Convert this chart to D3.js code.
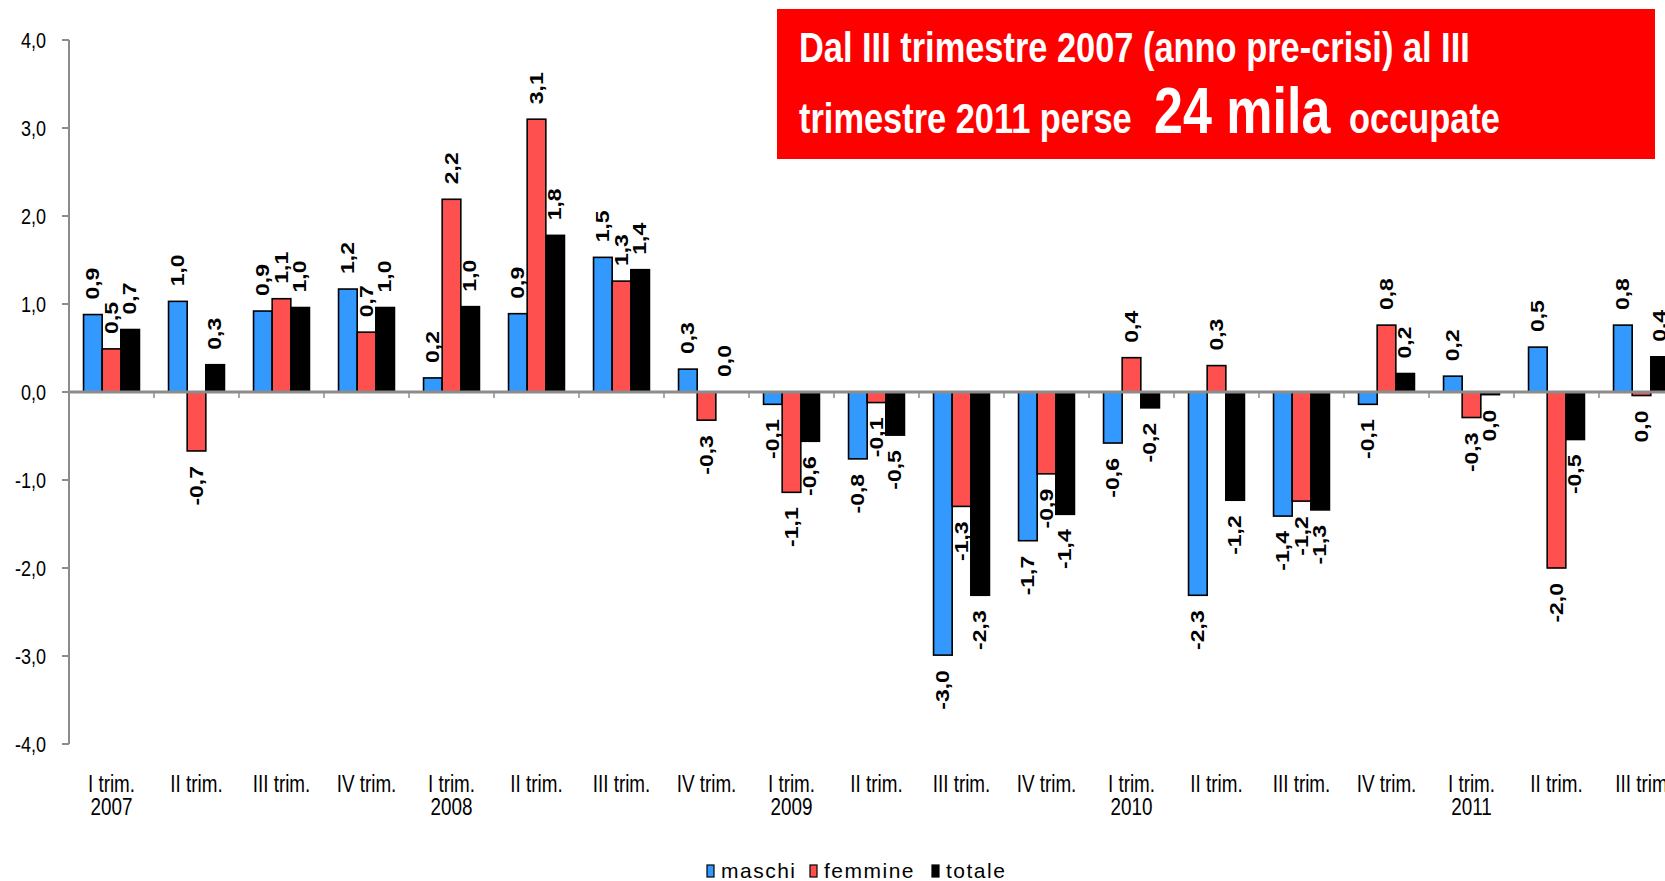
<!DOCTYPE html>
<meta charset="utf-8">
<title>Occupati per sesso</title>
<style>
  body { margin: 0; background: #fff; }
  text { font-family: "Liberation Sans", Arial, sans-serif; }
</style>
<div id="viz"></div>
<script src="https://cdnjs.cloudflare.com/ajax/libs/d3/7.8.5/d3.min.js"></script>
<script>

// quarters shown on the x axis (III trim. 2011 is cut by the right edge)
var categories = ["I trim.", "II trim.", "III trim.", "IV trim.",
                  "I trim.", "II trim.", "III trim.", "IV trim.",
                  "I trim.", "II trim.", "III trim.", "IV trim.",
                  "I trim.", "II trim.", "III trim.", "IV trim.",
                  "I trim.", "II trim.", "III trim"];
var years = ["2007", "", "", "", "2008", "", "", "", "2009", "", "", "",
             "2010", "", "", "", "2011", "", ""];

var maschi  = [0.88, 1.03, 0.92, 1.17, 0.16, 0.89, 1.53, 0.26, -0.14, -0.76,
               -2.99, -1.69, -0.58, -2.31, -1.41, -0.14, 0.18, 0.51, 0.76];
var femmine = [0.49, -0.67, 1.06, 0.68, 2.19, 3.10, 1.26, -0.32, -1.14, -0.12,
               -1.30, -0.93, 0.39, 0.30, -1.24, 0.76, -0.29, -2.00, -0.04];
var totale  = [0.71, 0.31, 0.96, 0.96, 0.97, 1.78, 1.39, 0.00, -0.56, -0.49,
               -2.31, -1.39, -0.18, -1.23, -1.34, 0.21, -0.03, -0.54, 0.40];

var seriesNames = ["maschi", "femmine", "totale"];
var seriesColors = ["#3399ff", "#ff5050", "#000000"];
var yTicks = [4, 3, 2, 1, 0, -1, -2, -3, -4];

var width = 1665;
var height = 881;

var svg = d3.select("#viz")
  .append("svg")
  .attr("width", width)
  .attr("height", height);

var idx = d3.range(categories.length);

var x = d3.scaleBand()
  .domain(idx)
  .range([69, 69 + 85 * categories.length]);

var x1 = d3.scaleBand()
  .domain(seriesNames)
  .range([0, x.bandwidth()])
  .paddingOuter(0.78);

var y = d3.scaleLinear()
  .domain([-4, 4])
  .range([744, 40]);

function fmt(v) {
  return (Math.round(v * 10) / 10).toFixed(1).replace(".", ",");
}

var rows = [];
idx.forEach(function(i) {
  rows.push({i: i, s: 0, v: maschi[i]});
  rows.push({i: i, s: 1, v: femmine[i]});
  rows.push({i: i, s: 2, v: totale[i]});
});

// title box
svg.append("rect")
  .attr("x", 777).attr("y", 9)
  .attr("width", 878).attr("height", 150)
  .attr("fill", "#ff0000");

function titleText(str, tx, ty, size) {
  svg.append("text")
    .attr("transform", "translate(" + tx + "," + ty + ") scale(0.8,1)")
    .attr("font-size", size)
    .attr("font-weight", "bold")
    .attr("fill", "#fff")
    .text(str);
}
titleText("Dal III trimestre 2007 (anno pre-crisi) al III", 799, 62, 43);
titleText("trimestre 2011 perse", 799, 133, 43);
titleText("24 mila", 1154, 133, 65);
titleText("occupate", 1349, 133, 43);

// bars
svg.append("g")
  .selectAll("rect")
  .data(rows)
  .join("rect")
  .attr("x", function(d) { return x(d.i) + x1(seriesNames[d.s]); })
  .attr("y", function(d) { return y(Math.max(0, d.v)); })
  .attr("width", x1.bandwidth())
  .attr("height", function(d) { return Math.abs(y(d.v) - y(0)); })
  .attr("fill", function(d) { return seriesColors[d.s]; })
  .attr("stroke", "#000")
  .attr("stroke-width", 1.6);

// y axis
var yAxis = svg.append("g");
yAxis.append("line")
  .attr("x1", 69).attr("x2", 69)
  .attr("y1", y(4)).attr("y2", y(-4))
  .attr("stroke", "#8c8c8c").attr("stroke-width", 2);
yAxis.selectAll(".tk")
  .data(yTicks)
  .join("line")
  .attr("x1", 62).attr("x2", 69)
  .attr("y1", function(d) { return y(d); })
  .attr("y2", function(d) { return y(d); })
  .attr("stroke", "#8c8c8c").attr("stroke-width", 2);
yAxis.selectAll("text")
  .data(yTicks)
  .join("text")
  .attr("transform", function(d) { return "translate(46," + y(d) + ") scale(0.82,1)"; })
  .attr("dy", "0.35em")
  .attr("text-anchor", "end")
  .attr("font-size", 22)
  .attr("fill", "#000")
  .text(function(d) { return fmt(d); });

// category ticks + zero line
svg.append("g")
  .selectAll("line")
  .data(idx)
  .join("line")
  .attr("x1", function(d) { return x(d) + x.bandwidth(); })
  .attr("x2", function(d) { return x(d) + x.bandwidth(); })
  .attr("y1", y(0)).attr("y2", y(0) + 6)
  .attr("stroke", "#8c8c8c").attr("stroke-width", 1.5);
svg.append("line")
  .attr("x1", 69).attr("x2", x.range()[1])
  .attr("y1", y(0)).attr("y2", y(0))
  .attr("stroke", "#8c8c8c").attr("stroke-width", 3);

// value labels, rotated
svg.append("g")
  .selectAll("text")
  .data(rows)
  .join("text")
  .attr("transform", function(d) {
    var cx = x(d.i) + x1(seriesNames[d.s]) + x1.bandwidth() / 2;
    var cy = d.v >= 0 ? y(d.v) - 15 : y(d.v) + 15;
    return "translate(" + cx + "," + cy + ") rotate(-90) scale(1,0.78)";
  })
  .attr("dy", "0.35em")
  .attr("text-anchor", function(d) { return d.v >= 0 ? "start" : "end"; })
  .attr("font-size", 23)
  .attr("font-weight", "bold")
  .attr("fill", "#000")
  .text(function(d) { return fmt(d.v); });

// x labels
var xl = svg.append("g");
xl.selectAll(".q")
  .data(idx)
  .join("text")
  .attr("transform", function(d) { return "translate(" + (x(d) + x.bandwidth() / 2) + ",792) scale(0.82,1)"; })
  .attr("text-anchor", "middle")
  .attr("font-size", 23)
  .text(function(d) { return categories[d]; });
xl.selectAll(".yr")
  .data(idx.filter(function(d) { return years[d] !== ""; }))
  .join("text")
  .attr("transform", function(d) { return "translate(" + (x(d) + x.bandwidth() / 2) + ",815) scale(0.82,1)"; })
  .attr("text-anchor", "middle")
  .attr("font-size", 23)
  .text(function(d) { return years[d]; });

// legend
var legendX = [707, 810, 932];
var lg = svg.append("g")
  .selectAll("g")
  .data(seriesNames)
  .join("g")
  .attr("transform", function(d, i) { return "translate(" + legendX[i] + ",865)"; });
lg.append("rect")
  .attr("width", 7).attr("height", 12)
  .attr("fill", function(d, i) { return seriesColors[i]; })
  .attr("stroke", "#000").attr("stroke-width", 1.2);
lg.append("text")
  .attr("x", 14).attr("y", 13)
  .attr("font-size", 21)
  .attr("letter-spacing", 1.5)
  .text(function(d) { return d; });

</script>
